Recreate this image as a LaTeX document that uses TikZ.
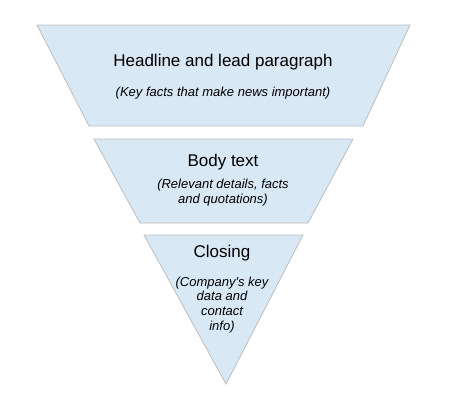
\documentclass[tikz,border=0pt]{standalone}
\usepackage{fontspec}
\setmainfont{Liberation Sans}
\definecolor{pyrfill}{RGB}{216,232,245}
\definecolor{pyrline}{RGB}{190,190,190}
\begin{document}
\begin{tikzpicture}[x=1pt,y=-1pt,
  layer/.style={fill=pyrfill,draw=pyrline,line width=0.8pt,line join=miter},
  heading/.style={font=\fontsize{17}{20}\selectfont,inner sep=0pt,anchor=center},
  sub/.style={font=\fontsize{13}{14.8}\selectfont\itshape,inner sep=0pt,align=center,anchor=center}]
\useasboundingbox (0,0) rectangle (457,400);
\fill[white] (0,0) rectangle (457,400);
\draw[layer] (37,25) -- (410,25) -- (363,126) -- (89,126) -- cycle;
\draw[layer] (94,139) -- (353,139) -- (308,223) -- (140,223) -- cycle;
\draw[layer] (144,235) -- (303,235) -- (226,384) -- cycle;
\node[heading] (h1) at (223,62) {Headline and lead paragraph};
\node[sub] (s1) at (223,93) {(Key facts that make news important)};
\node[heading] (h2) at (223,162) {Body text};
\node[sub] (s2) at (223,192.5) {(Relevant details, facts\\and quotations)};
\node[heading] (h3) at (222,253) {Closing};
\node[sub] (s3) at (222,305) {(Company\textquotesingle s key\\data and\\contact\\info)};
\end{tikzpicture}
\end{document}
